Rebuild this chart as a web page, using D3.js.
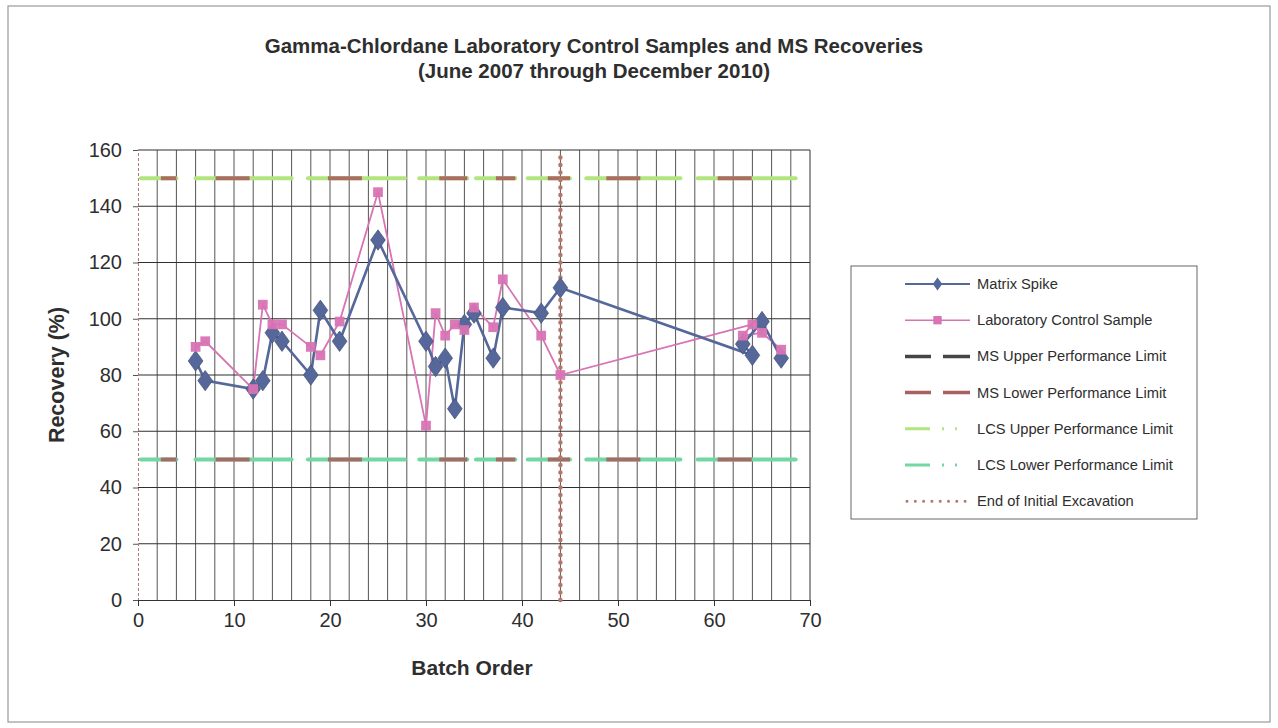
<!DOCTYPE html>
<html><head><meta charset="utf-8">
<script src="https://cdn.jsdelivr.net/npm/d3@7"></script>
<style>
body{margin:0;background:#fff}
text{font-family:"Liberation Sans",Arial,sans-serif;fill:#2e2e2e}
</style></head>
<body><svg id="c" width="1278" height="728"></svg>
<script>
// ---- data ----
const batchOrder   = [6,7,12,13,14,15,18,19,21,25,30,31,32,33,34,35,37,38,42,44,64,63,65,67];
const matrixSpike  = [85,78,75,78,95,92,80,103,92,128,92,83,86,68,98,102,86,104,102,111,87,91,99,86];
const labControl   = [90,92,75,105,98,98,90,87,99,145,62,102,94,98,96,104,97,114,94,80,98,94,95,89];
const limitRanges  = [[0.3,4],[6,16],[17.7,27.8],[29.3,34.3],[35.2,39.3],[40.6,45],[46.7,56.5],[58.3,68.5]];
const msUpperLimit = 150, msLowerLimit = 50, lcsUpperLimit = 150, lcsLowerLimit = 50;
const excavationEnd = 44;
const xTicks = [0,10,20,30,40,50,60,70];
const yTicks = [0,20,40,60,80,100,120,140,160];
const legendLabels = ["Matrix Spike","Laboratory Control Sample","MS Upper Performance Limit","MS Lower Performance Limit","LCS Upper Performance Limit","LCS Lower Performance Limit","End of Initial Excavation"];

const svg = d3.select("#c");
const x = d3.scaleLinear().domain([0,70]).range([138,810]);
const y = d3.scaleLinear().domain([0,160]).range([600,150]);

const C = {ms:"#56679a", lcs:"#d873b4", msUp:"#454545", msLo:"#a8615e", lcsUp:"#b2e57e", lcsLo:"#72d7a2", exc:"#b4776a"};
const FF = "Liberation Sans, Arial, sans-serif";

// outer frame
svg.append("rect").attr("x",8).attr("y",6).attr("width",1262).attr("height",716)
  .attr("fill","none").attr("stroke","#9a9a9a").attr("stroke-width",1.2);

// title
svg.append("text").attr("x",594).attr("y",53).attr("text-anchor","middle")
  .attr("font-size",20.5).attr("font-weight","bold").text("Gamma-Chlordane Laboratory Control Samples and MS Recoveries");
svg.append("text").attr("x",594).attr("y",78).attr("text-anchor","middle")
  .attr("font-size",20.5).attr("font-weight","bold").text("(June 2007 through December 2010)");

// vertical grid every 2
const g = svg.append("g");
g.selectAll("line.vg").data(d3.range(2,70,2)).enter().append("line")
  .attr("x1",d=>x(d)).attr("x2",d=>x(d)).attr("y1",y(0)).attr("y2",y(160))
  .attr("stroke","#555").attr("stroke-width",1);
// horizontal grid
g.selectAll("line.hg").data(yTicks.filter(d=>d>0)).enter().append("line")
  .attr("x1",x(0)).attr("x2",x(70)).attr("y1",d=>y(d)).attr("y2",d=>y(d))
  .attr("stroke","#2f2f2f").attr("stroke-width",1.1);
// right border
g.append("line").attr("x1",x(70)).attr("x2",x(70)).attr("y1",y(0)).attr("y2",y(160)).attr("stroke","#333");

// axes
const yAxis = d3.axisLeft(y).tickValues(yTicks).tickSize(5).tickPadding(11);
const ya = svg.append("g").attr("transform",`translate(${x(0)},0)`).call(yAxis);
ya.select(".domain").attr("stroke","#b07a70").attr("stroke-dasharray","3,2");
ya.selectAll(".tick line").attr("stroke","#555");
ya.selectAll("text").attr("font-size",20).attr("fill","#2e2e2e").style("font-family",FF);

const xAxis = d3.axisBottom(x).tickValues(xTicks).tickSize(6).tickPadding(7);
const xa = svg.append("g").attr("transform",`translate(0,${y(0)})`).call(xAxis);
xa.select(".domain").attr("stroke","#333");
xa.selectAll(".tick line").attr("stroke","#333");
xa.selectAll("text").attr("font-size",20).attr("fill","#2e2e2e").style("font-family",FF);

svg.append("text").attr("transform",`translate(64,${y(80)}) rotate(-90)`).attr("text-anchor","middle")
  .attr("font-size",21.5).attr("font-weight","bold").text("Recovery (%)");
svg.append("text").attr("x",472).attr("y",675).attr("text-anchor","middle")
  .attr("font-size",21).attr("font-weight","bold").text("Batch Order");

// limit lines
function limitLines(val, lcsColor, msColor){
  limitRanges.forEach(r=>{
    svg.append("line").attr("x1",x(r[0])).attr("x2",x(r[1])).attr("y1",y(val)).attr("y2",y(val))
      .attr("stroke",lcsColor).attr("stroke-width",4).attr("stroke-linecap","round");
    svg.append("line").attr("x1",x(r[0])).attr("x2",x(r[1])).attr("y1",y(val)).attr("y2",y(val))
      .attr("stroke",msColor).attr("stroke-width",4).attr("stroke-dasharray","0,20,34,40").attr("stroke-opacity",0.9);
  });
}
limitLines(lcsUpperLimit, C.lcsUp, C.msLo);
limitLines(lcsLowerLimit, C.lcsLo, C.msLo);

// excavation line
svg.append("line").attr("x1",x(excavationEnd)).attr("x2",x(excavationEnd)).attr("y1",y(0)).attr("y2",y(160))
  .attr("stroke",C.exc).attr("stroke-width",4.5).attr("stroke-linecap","round").attr("stroke-dasharray","0,7.5");

// series
const msData = batchOrder.map((b,i)=>[b,matrixSpike[i]]);
const lcsData = batchOrder.map((b,i)=>[b,labControl[i]]);
const line = d3.line().x(d=>x(d[0])).y(d=>y(d[1]));

svg.append("path").datum(lcsData).attr("d",line).attr("fill","none").attr("stroke",C.lcs).attr("stroke-width",1.8);
svg.append("path").datum(msData).attr("d",line).attr("fill","none").attr("stroke",C.ms).attr("stroke-width",2.6);

const diamond = d3.symbol().type(d3.symbolDiamond).size(120);
const square = d3.symbol().type(d3.symbolSquare).size(95);
svg.selectAll("path.msm").data(msData).enter().append("path")
  .attr("d",diamond).attr("transform",d=>`translate(${x(d[0])},${y(d[1])}) scale(1.25,1)`)
  .attr("fill",C.ms).attr("stroke","#3f4d78").attr("stroke-width",0.6);
svg.selectAll("path.lcsm").data(lcsData).enter().append("path")
  .attr("d",square).attr("transform",d=>`translate(${x(d[0])},${y(d[1])})`)
  .attr("fill",C.lcs).attr("opacity",0.95);

// legend
const L = svg.append("g");
L.append("rect").attr("x",851).attr("y",266).attr("width",346).attr("height",253)
  .attr("fill","#fff").attr("stroke","#666").attr("stroke-width",1);
const rowY = i => 284 + i*36.2;
const lx1 = 905, lx2 = 970;
legendLabels.forEach((t,i)=>{
  L.append("text").attr("x",977).attr("y",rowY(i)+5).attr("font-size",14.7).text(t);
});
// row 0: MS
L.append("line").attr("x1",lx1).attr("x2",lx2).attr("y1",rowY(0)).attr("y2",rowY(0)).attr("stroke",C.ms).attr("stroke-width",2);
L.append("path").attr("d",d3.symbol().type(d3.symbolDiamond).size(50)).attr("transform",`translate(${(lx1+lx2)/2},${rowY(0)}) scale(1.25,1)`).attr("fill",C.ms);
// row 1: LCS
L.append("line").attr("x1",lx1).attr("x2",lx2).attr("y1",rowY(1)).attr("y2",rowY(1)).attr("stroke",C.lcs).attr("stroke-width",1.6);
L.append("path").attr("d",d3.symbol().type(d3.symbolSquare).size(70)).attr("transform",`translate(${(lx1+lx2)/2},${rowY(1)})`).attr("fill",C.lcs);
// rows 2,3: dashed
[[2,C.msUp],[3,C.msLo]].forEach(([i,c])=>{
  L.append("line").attr("x1",lx1).attr("x2",lx2).attr("y1",rowY(i)).attr("y2",rowY(i))
    .attr("stroke",c).attr("stroke-width",3.5).attr("stroke-dasharray","26,12,27");
});
// rows 4,5: dash-dot
[[4,C.lcsUp],[5,C.lcsLo]].forEach(([i,c])=>{
  L.append("line").attr("x1",lx1).attr("x2",lx2).attr("y1",rowY(i)).attr("y2",rowY(i))
    .attr("stroke",c).attr("stroke-width",3).attr("stroke-dasharray","25,12,2,11,2,20");
});
// row 6: dotted
L.append("line").attr("x1",lx1+2).attr("x2",lx2).attr("y1",rowY(6)).attr("y2",rowY(6))
  .attr("stroke",C.exc).attr("stroke-width",3).attr("stroke-linecap","round").attr("stroke-dasharray","0,8.3");
</script></body></html>
